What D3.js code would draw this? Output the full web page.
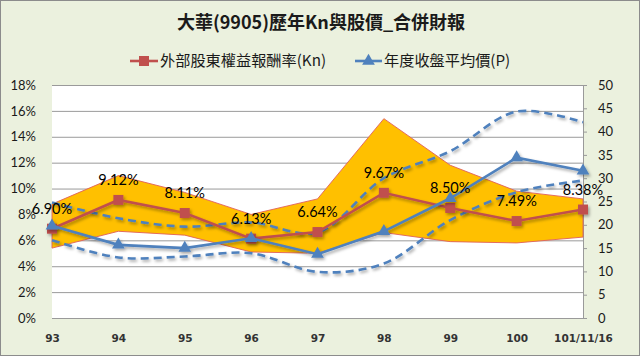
<!DOCTYPE html>
<html><head><meta charset="utf-8">
<script src="https://cdn.jsdelivr.net/npm/d3@7/dist/d3.min.js"></script>
<style>body{margin:0;background:#fff}svg{display:block}</style>
</head><body>
<script>
const categories = ["93","94","95","96","97","98","99","100","101/11/16"];
const knValues   = [6.90, 9.12, 8.11, 6.13, 6.64, 9.67, 8.50, 7.49, 8.38];
const knUpper    = [8.8, 11.0, 9.7, 8.0, 9.2, 15.4, 11.8, 9.8, 9.2];
const knLower    = [5.4, 6.7, 6.4, 5.1, 5.0, 6.6, 5.9, 5.8, 6.25];
const priceAvg   = [19.8, 15.7, 15.0, 17.1, 13.7, 18.6, 25.7, 34.4, 31.6];
const priceHigh  = [24.8, 21.4, 19.6, 20.5, 18.4, 30.0, 35.8, 44.3, 42.0];
const priceLow   = [16.7, 13.0, 13.2, 13.9, 9.9, 11.7, 21.0, 27.0, 29.5];
const leftTicks  = [0,2,4,6,8,10,12,14,16,18];
const rightTicks = [0,5,10,15,20,25,30,35,40,45,50];
const title = "大華(9905)歷年Kn與股價_合併財報";
const legendKn = "外部股東權益報酬率(Kn)";
const legendP = "年度收盤平均價(P)";

const W = 640, H = 356;
const L = 52, R = 583, T = 85, B = 318;
const red = "#C0504D", blue = "#4F81BD";

const svg = d3.select("body").append("svg").attr("width", W).attr("height", H);
const defs = svg.append("defs");
const f = defs.append("filter").attr("id","sh").attr("x","-10%").attr("y","-10%").attr("width","130%").attr("height","140%");
f.append("feDropShadow").attr("dx",1.5).attr("dy",2).attr("stdDeviation",1.4).attr("flood-color","#000").attr("flood-opacity",0.35);

svg.append("rect").attr("x",0.5).attr("y",0.5).attr("width",W-1).attr("height",H-1)
  .attr("fill","#EBF1DE").attr("stroke","#8C8C8C");
svg.append("rect").attr("x",L).attr("y",T).attr("width",R-L).attr("height",B-T).attr("fill","#fff");

const x = d3.scalePoint().domain(categories).range([L, R]);
const yL = d3.scaleLinear().domain([0, 18]).range([B, T]);
const yR = d3.scaleLinear().domain([0, 50]).range([B, T]);

// gridlines
svg.append("g").attr("transform",`translate(${L},0)`)
  .call(d3.axisLeft(yL).tickValues(leftTicks).tickSize(-(R-L)).tickFormat(""))
  .call(g=>g.select(".domain").remove())
  .call(g=>g.selectAll("line").attr("stroke","#9A9A9A").attr("stroke-width",1));

// left axis labels
svg.append("g").attr("transform",`translate(${L},0)`)
  .call(d3.axisLeft(yL).tickValues(leftTicks).tickSize(0).tickPadding(16).tickFormat(d=>d+"%"))
  .call(g=>g.select(".domain").remove())
  .call(g=>g.selectAll("text").attr("font-family","Lato, 'Open Sans', sans-serif").attr("font-size",13).attr("fill","#1a1a1a"));

// right axis
svg.append("g").attr("transform",`translate(${R},0)`)
  .call(d3.axisRight(yR).tickValues(rightTicks).tickSize(4).tickSizeOuter(0).tickPadding(11))
  .call(g=>g.select(".domain").attr("stroke","#9A9A9A"))
  .call(g=>g.selectAll("line").attr("stroke","#9A9A9A"))
  .call(g=>g.selectAll("text").attr("font-family","Lato, 'Open Sans', sans-serif").attr("font-size",13).attr("fill","#1a1a1a"));

// bottom axis labels
svg.append("g").attr("transform",`translate(0,${B})`)
  .call(d3.axisBottom(x).tickSize(0).tickPadding(17))
  .call(g=>g.select(".domain").attr("stroke","#9A9A9A"))
  .call(g=>g.selectAll("text").attr("font-family","'DejaVu Sans', Verdana, sans-serif").attr("font-size",10.5).attr("font-weight","bold").attr("fill","#333"));

const idx = categories.map((c,i)=>i);

// band
const area = d3.area().x(i=>x(categories[i])).y0(i=>yL(knLower[i])).y1(i=>yL(knUpper[i]));
svg.append("path").datum(idx).attr("d",area).attr("fill","#FFC000")
  .attr("stroke","#E0605A").attr("stroke-width",0.9);

// dashed price range
const curve = d3.curveCatmullRom.alpha(0.5);
[priceHigh, priceLow].forEach(arr=>{
  svg.append("path").datum(idx)
    .attr("d", d3.line().x(i=>x(categories[i])).y(i=>yR(arr[i])).curve(curve))
    .attr("fill","none").attr("stroke",blue).attr("stroke-width",2.6)
    .attr("stroke-dasharray","8,5").attr("filter","url(#sh)");
});

// Kn line
const gKn = svg.append("g").attr("filter","url(#sh)");
gKn.append("path").datum(idx)
  .attr("d", d3.line().x(i=>x(categories[i])).y(i=>yL(knValues[i])))
  .attr("fill","none").attr("stroke",red).attr("stroke-width",2.6);
gKn.selectAll("rect").data(idx).join("rect")
  .attr("x",i=>x(categories[i])-5).attr("y",i=>yL(knValues[i])-5)
  .attr("width",10).attr("height",10).attr("fill",red);

// price line
const gP = svg.append("g").attr("filter","url(#sh)");
gP.append("path").datum(idx)
  .attr("d", d3.line().x(i=>x(categories[i])).y(i=>yR(priceAvg[i])))
  .attr("fill","none").attr("stroke",blue).attr("stroke-width",2.6);
const tri = d3.symbol().type(d3.symbolTriangle).size(70);
gP.selectAll("path.m").data(idx).join("path").attr("class","m")
  .attr("d",tri()).attr("transform",i=>`translate(${x(categories[i])},${yR(priceAvg[i])})`)
  .attr("fill",blue);

// data labels
svg.append("g").selectAll("text").data(idx).join("text")
  .attr("x",i=>x(categories[i])).attr("y",i=>yL(knValues[i])-15)
  .attr("text-anchor","middle").attr("font-family","Lato, 'Open Sans', sans-serif")
  .attr("font-size",14.5).attr("fill","#000")
  .text(i=>knValues[i].toFixed(2)+"%");

// title
svg.append("text").attr("x",321).attr("y",29).attr("text-anchor","middle")
  .attr("font-family","'Noto Sans CJK TC', sans-serif").attr("font-weight","bold")
  .attr("font-size",18).attr("fill","#1a1a1a").text(title);

// legend
const lg = svg.append("g");
lg.append("line").attr("x1",130).attr("x2",158).attr("y1",61).attr("y2",61).attr("stroke",red).attr("stroke-width",2.6);
lg.append("rect").attr("x",139).attr("y",56).attr("width",10).attr("height",10).attr("fill",red);
lg.append("text").attr("x",160).attr("y",66).attr("font-family","'Noto Sans CJK TC', sans-serif")
  .attr("font-size",15.2).attr("fill","#1a1a1a").text(legendKn);
lg.append("line").attr("x1",355).attr("x2",382).attr("y1",61).attr("y2",61).attr("stroke",blue).attr("stroke-width",2.6);
lg.append("path").attr("d",tri()).attr("transform","translate(368.5,61)").attr("fill",blue);
lg.append("text").attr("x",384).attr("y",66).attr("font-family","'Noto Sans CJK TC', sans-serif")
  .attr("font-size",15.2).attr("fill","#1a1a1a").text(legendP);
</script>
</body></html>
